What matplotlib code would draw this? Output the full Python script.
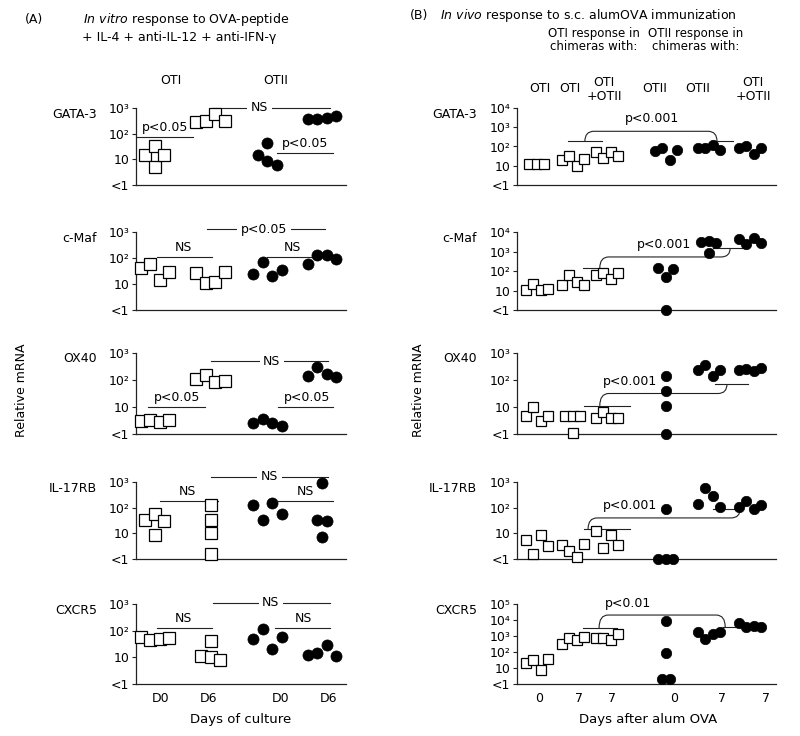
import numpy as np
import matplotlib
matplotlib.use("Agg")
import matplotlib.pyplot as plt
from matplotlib.path import Path
from matplotlib.patches import PathPatch
from matplotlib.ticker import NullLocator

plt.rcParams['font.family'] = ['DejaVu Sans']
plt.rcParams['mathtext.fontset'] = 'dejavusans'

W, H = 800, 736

genes = ['GATA-3', 'c-Maf', 'OX40', 'IL-17RB', 'CXCR5']

# panel A: in vitro culture, groups = OTI D0, OTI D6, OTII D0, OTII D6
a_days = ['D0', 'D6', 'D0', 'D6']
a_gata3 = [[15, 33, 5, 15], [280, 300, 580, 320], [15, 43, 9, 6], [370, 370, 400, 480]]
a_cmaf = [[41, 59, 14, 29], [27, 11, 12, 28], [25, 70, 20, 35], [58, 130, 130, 90]]
a_ox40 = [[3, 3.3, 2.8, 3.2], [110, 155, 85, 95], [2.6, 3.6, 2.6, 2], [140, 300, 170, 130]]
a_il17rb = [[33, 56, 8.6, 30], [1.6, 10, 33, 125], [125, 33, 150, 56], [33, 900, 7, 30]]
a_cxcr5 = [[58, 45, 50, 54], [11, 10, 40, 8], [47, 118, 21, 60], [12, 15, 30, 11]]

# panel B: in vivo, OTI d0, OTI d7 (OTI), OTI d7 (OTI+OTII), OTII d0, OTII d7 (OTII), OTII d7 (OTI+OTII)
b_heads = ['OTI', 'OTI', 'OTI\n+OTII', 'OTII', 'OTII', 'OTI\n+OTII']
b_days = ['0', '7', '7', '0', '7', '7']
b_gata3 = [[12, 13, 13], [20, 33, 10, 23], [50, 26, 50, 33], [55, 80, 20, 63], [80, 88, 125, 63], [88, 110, 42, 80]]
b_cmaf = [[11, 22, 11, 12], [20, 60, 28, 19], [60, 80, 40, 80], [140, 50, 1, 125], [3000, 3500, 800, 2800], [4500, 2500, 5000, 2800]]
b_ox40 = [[4.5, 10, 3, 4.5], [4.5, 4.5, 1.1, 4.5], [3.8, 6.3, 4, 3.8], [140, 40, 11, 1], [240, 350, 140, 240], [240, 260, 220, 290]]
b_il17rb = [[5.6, 1.6, 9, 3.3], [3.6, 2, 1.2, 4], [12, 2.7, 8.3, 3.6], [1, 85, 1, 1], [140, 600, 280, 110], [110, 190, 90, 125]]
b_cxcr5 = [[20, 30, 7.5, 37], [320, 750, 560, 870], [750, 750, 560, 1250], [2, 8700, 90, 2], [1800, 630, 1250, 1800], [6300, 3600, 4000, 3600]]

a_data = [a_gata3, a_cmaf, a_ox40, a_il17rb, a_cxcr5]
b_data = [b_gata3, b_cmaf, b_ox40, b_il17rb, b_cxcr5]
b_top = [4, 4, 3, 3, 5]

# significance labels, panel A: (x0, x1, level, text, text x, text above line?)
a_notes = [
    [(-0.32, 0.68, 1.87, 'p<0.05', 0.18, True), (1.04, 3.14, 3.0, 'NS', 1.88, False), (2.19, 3.2, 1.25, 'p<0.05', 2.69, True)],
    [(0.04, 1.02, 2.04, 'NS', 0.52, True), (0.93, 3.05, 3.1, 'p<0.05', 1.96, False), (2.01, 2.84, 2.04, 'NS', 2.46, True)],
    [(-0.13, 0.9, 1.0, 'p<0.05', 0.4, True), (1.0, 3.1, 2.7, 'NS', 2.1, False), (2.21, 3.2, 1.0, 'p<0.05', 2.73, True)],
    [(0.09, 1.13, 2.26, 'NS', 0.59, True), (1.0, 3.1, 3.2, 'NS', 2.06, False), (2.21, 3.2, 2.26, 'NS', 2.71, True)],
    [(0.04, 1.02, 2.1, 'NS', 0.52, True), (1.04, 3.14, 3.04, 'NS', 2.08, False), (2.15, 3.14, 2.1, 'NS', 2.66, True)],
]
# panel B brackets: left line, right line, brace ends and height, text
b_notes = [
    dict(left=(0.87, 1.83, 2.26), right=(4.9, 5.52, 2.26), xl=1.35, xr=5.07, yb=2.79, text=('p<0.001', 3.24, 3.47)),
    dict(left=(1.3, 1.77, 2.15), right=(4.96, 5.9, 3.18), xl=1.77, xr=5.44, yb=2.72, text=('p<0.001', 3.58, 3.38)),
    dict(left=(1.32, 2.62, 1.04), right=(5.0, 5.94, 1.85), xl=1.77, xr=5.35, yb=1.5, text=('p<0.001', 2.62, 1.96)),
    dict(left=(1.32, 2.62, 1.16), right=(4.96, 5.72, 1.96), xl=1.44, xr=5.72, yb=1.6, text=('p<0.001', 2.62, 2.08)),
    dict(left=(1.3, 2.25, 3.5), right=(5.24, 5.94, 3.56), xl=1.75, xr=5.3, yb=4.31, text=('p<0.01', 2.56, 5.0)),
]

tick_text = ['<1', '10', '10²', '10³', '10⁴', '10⁵']

# layout (pixels)
row_top = [108, 232, 353, 482, 604]
row_bot = [185, 310, 434, 559, 684]
a_left, a_right = 136, 346
b_left, b_right = 517, 776
a_pos = [0, 1, 2.02, 3.0]
a_xlim = (-0.34, 3.43)
a_ticks = [0.1, 0.97, 2.26, 3.12]
b_pos = [0, 1.01, 1.97, 3.63, 4.84, 6.0]
b_xlim = (-0.56, 6.73)
b_ticks = [0.06, 1.18, 2.11, 3.86, 5.21, 6.45]
LC = '#222222'
FS = 9


def fx(x):
    return x / W


def fy(y):
    return 1 - y / H


def spread(ax, xc, vals, d, step):
    # points that sit clear of every other point go in the middle,
    # crowded ones are spaced out left to right in list order
    pts = ax.transData.transform(np.column_stack([np.full(len(vals), xc), vals]))
    y = pts[:, 1]
    n = len(vals)
    alone = [all(abs(y[i] - y[j]) >= 0.9 * d for j in range(n) if j != i) for i in range(n)]
    crowd = [i for i in range(n) if not alone[i]]
    offs = np.zeros(n)
    for k, i in enumerate(crowd):
        offs[i] = (k - (len(crowd) - 1) / 2) * step
    back = ax.transData.inverted().transform(np.column_stack([pts[:, 0] + offs, y]))
    return back[:, 0]


def make_axes(fig, left, right, r, top_dec, xlim):
    ax = fig.add_axes([fx(left), fy(row_bot[r]), fx(right - left), (row_bot[r] - row_top[r]) / H])
    ax.set_yscale('log')
    ax.set_ylim(1, 10 ** top_dec)
    ax.set_xlim(*xlim)
    ax.set_yticks([10 ** k for k in range(top_dec + 1)])
    ax.set_yticklabels(tick_text[:top_dec + 1])
    ax.yaxis.set_minor_locator(NullLocator())
    ax.set_xticks([])
    for s in ('top', 'right'):
        ax.spines[s].set_visible(False)
    for s in ('left', 'bottom'):
        ax.spines[s].set_linewidth(0.9)
        ax.spines[s].set_color(LC)
    ax.tick_params(axis='y', length=3, width=0.8, pad=2, labelsize=FS, color=LC)
    ax.patch.set_alpha(0)
    return ax


def draw_groups(ax, groups, positions, kinds, ms, step):
    d = ms * 100 / 72
    for vals, xc, kind in zip(groups, positions, kinds):
        xs = spread(ax, xc, vals, d, step)
        if kind == 'sq':
            ax.plot(xs, vals, ls='none', marker='s', ms=ms, mfc='white', mec='black',
                    mew=0.9, clip_on=False, zorder=3)
        else:
            ax.plot(xs, vals, ls='none', marker='o', ms=ms, mfc='black', mec='black',
                    mew=0.5, clip_on=False, zorder=3)


def brace(ax, spec):
    to_ax = ax.transAxes.inverted()
    disp = ax.transData.transform
    x0, x1, yl = spec['left']
    ax.plot([x0, x1], [10 ** yl] * 2, color=LC, lw=0.8, clip_on=False)
    x0, x1, yr = spec['right']
    ax.plot([x0, x1], [10 ** yr] * 2, color=LC, lw=0.8, clip_on=False)
    p1 = disp((spec['xl'], 10 ** yl))
    pb = disp((spec['xr'], 10 ** spec['yb']))
    p2 = disp((spec['xr'], 10 ** yr))
    yb = pb[1]
    r = 9
    verts = [(p1[0], p1[1]), (p1[0], yb), (p1[0] + r, yb), (p2[0] - r, yb), (p2[0], yb), (p2[0], p2[1])]
    verts = to_ax.transform(verts)
    codes = [Path.MOVETO, Path.CURVE3, Path.CURVE3, Path.LINETO, Path.CURVE3, Path.CURVE3]
    ax.add_patch(PathPatch(Path(verts, codes), fc='none', ec=LC, lw=0.8,
                           transform=ax.transAxes, clip_on=False))
    label, tx, ty = spec['text']
    ax.text(tx, 10 ** ty, label, ha='center', va='center', fontsize=FS)


fig = plt.figure(figsize=(W / 100, H / 100), dpi=100)

for r, gene in enumerate(genes):
    # panel A
    ax = make_axes(fig, a_left, a_right, r, 3, a_xlim)
    draw_groups(ax, a_data[r], a_pos, ['sq', 'sq', 'ci', 'ci'], 8, 9.5)
    for x0, x1, lvl, label, tx, above in a_notes[r]:
        ax.plot([x0, x1], [10 ** lvl] * 2, color=LC, lw=0.8, clip_on=False, zorder=1)
        if above:
            ax.annotate(label, (tx, 10 ** lvl), xytext=(0, 7), textcoords='offset points',
                        ha='center', va='center', fontsize=FS)
        else:
            ax.text(tx, 10 ** lvl, label, ha='center', va='center', fontsize=FS, zorder=2,
                    bbox=dict(fc='white', ec='none', pad=2.5))
    fig.text(fx(97), fy(row_top[r] + 6), gene, ha='right', va='center', fontsize=FS)
    if r == len(genes) - 1:
        ax.set_xticks(a_ticks)
        ax.set_xticklabels(a_days, fontsize=FS)
        ax.tick_params(axis='x', length=0, pad=6)

    # panel B
    ax = make_axes(fig, b_left, b_right, r, b_top[r], b_xlim)
    draw_groups(ax, b_data[r], b_pos, ['sq', 'sq', 'sq', 'ci', 'ci', 'ci'], 7.5, 7.5)
    brace(ax, b_notes[r])
    fig.text(fx(477), fy(row_top[r] + 6), gene, ha='right', va='center', fontsize=FS)
    if r == len(genes) - 1:
        ax.set_xticks(b_ticks)
        ax.set_xticklabels(b_days, fontsize=FS)
        ax.tick_params(axis='x', length=0, pad=6)

# titles and headers
fig.text(fx(25), fy(20), '(A)', ha='left', va='center', fontsize=FS)
fig.text(fx(83), fy(20), r'$\it{In\ vitro}$ response to OVA-peptide', ha='left', va='center', fontsize=FS)
fig.text(fx(82), fy(38), '+ IL-4 + anti-IL-12 + anti-IFN-γ', ha='left', va='center', fontsize=FS)
fig.text(fx(171), fy(80), 'OTI', ha='center', va='center', fontsize=FS)
fig.text(fx(276), fy(80), 'OTII', ha='center', va='center', fontsize=FS)

fig.text(fx(410), fy(15), '(B)', ha='left', va='center', fontsize=FS)
fig.text(fx(440), fy(15), r'$\it{In\ vivo}$ response to s.c. alumOVA immunization', ha='left', va='center', fontsize=FS)
fig.text(fx(594), fy(40), 'OTI response in\nchimeras with:', ha='center', va='center', fontsize=8.5, linespacing=1.0)
fig.text(fx(696), fy(40), 'OTII response in\nchimeras with:', ha='center', va='center', fontsize=8.5, linespacing=1.0)
for label, xp in zip(b_heads, [540, 570, 604, 655, 698, 753]):
    fig.text(fx(xp), fy(89), label, ha='center', va='center', fontsize=FS, linespacing=1.1)

fig.text(fx(22), fy(390), 'Relative mRNA', rotation=90, ha='center', va='center', fontsize=FS)
fig.text(fx(418), fy(390), 'Relative mRNA', rotation=90, ha='center', va='center', fontsize=FS)
fig.text(fx(241), fy(720), 'Days of culture', ha='center', va='center', fontsize=FS + 0.5)
fig.text(fx(648), fy(720), 'Days after alum OVA', ha='center', va='center', fontsize=FS + 0.5)

fig.savefig('out.png', dpi=100, facecolor='white')
